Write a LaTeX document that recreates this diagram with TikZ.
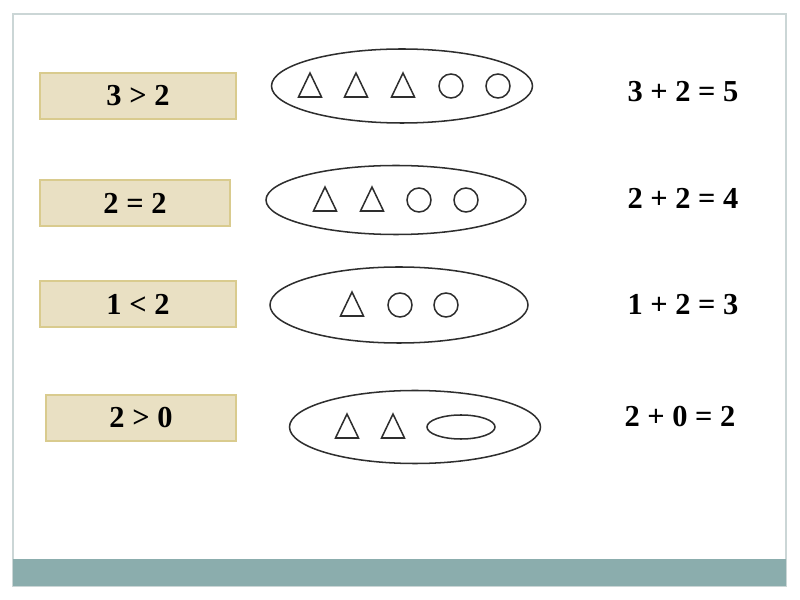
\documentclass[tikz,border=0pt]{standalone}
\usepackage{fontspec}
\setmainfont{Liberation Serif}
\usetikzlibrary{shapes.geometric,shadows}
\definecolor{boxfill}{HTML}{E9E0C3}
\definecolor{boxline}{HTML}{D9CB8E}
\definecolor{barcol}{HTML}{8BADAD}
\definecolor{framecol}{HTML}{CBD6D6}
\definecolor{inkcol}{HTML}{2E2E2E}
\tikzset{cmpbox/.style={draw=boxline,fill=boxfill,line width=1pt,
  minimum height=46*0.03cm,inner sep=0pt,
  font=\fontsize{26}{30}\selectfont\bfseries,
  drop shadow={opacity=0.3,shadow xshift=0.8pt,shadow yshift=-1pt}}}
\tikzset{sumtext/.style={font=\fontsize{26}{30}\selectfont\bfseries}}
\tikzset{setline/.style={draw=inkcol,line width=1.3pt}}
\tikzset{setoval/.style={setline,ellipse,inner sep=0pt}}
\tikzset{dot/.style={setline,circle,minimum size=24*0.03cm,inner sep=0pt}}
\tikzset{tri/.pic={\draw[setline] (-11.5,11) -- (0,-13) -- (11.5,11) -- cycle;}}

\begin{document}
\begin{tikzpicture}[x=0.03cm,y=-0.03cm]
\useasboundingbox (0,0) rectangle (800,600);

% slide frame and bottom bar
\draw[framecol,line width=1.2pt] (13,14) rectangle (786,586);
\fill[barcol] (13,559) rectangle (786,586);

% comparison boxes
\node[cmpbox,minimum width=196*0.03cm] (cmpA) at (138,96) {3 > 2};
\node[cmpbox,minimum width=190*0.03cm] (cmpB) at (135,203) {2 = 2};
\node[cmpbox,minimum width=196*0.03cm] (cmpC) at (138,304) {1 < 2};
\node[cmpbox,minimum width=190*0.03cm] (cmpD) at (141,418) {2 > 0};

% sets
\node[setoval,minimum width=261*0.03cm,minimum height=74*0.03cm] (setA) at (402,86) {};
\foreach \x in {310,356,403}{
  \pic at (\x,86) {tri};
}
\foreach \x [count=\i] in {451,498}{
  \node[dot] (setA-o\i) at (\x,86) {};
}

\node[setoval,minimum width=260*0.03cm,minimum height=69*0.03cm] (setB) at (396,200) {};
\foreach \x in {325,372}{
  \pic at (\x,200) {tri};
}
\foreach \x [count=\i] in {419,466}{
  \node[dot] (setB-o\i) at (\x,200) {};
}

\node[setoval,minimum width=258*0.03cm,minimum height=76*0.03cm] (setC) at (399,305) {};
\pic at (352,305) {tri};
\foreach \x [count=\i] in {400,446}{
  \node[dot] (setC-o\i) at (\x,305) {};
}

\node[setoval,minimum width=251*0.03cm,minimum height=73*0.03cm] (setD) at (415,427) {};
\foreach \x in {347,393}{
  \pic at (\x,427) {tri};
}
\node[setoval,minimum width=68*0.03cm,minimum height=24*0.03cm] (setD-e) at (461,427) {};

% sums
\node[sumtext] (sumA) at (683,92) {3 + 2 = 5};
\node[sumtext] (sumB) at (683,198) {2 + 2 = 4};
\node[sumtext] (sumC) at (683,305) {1 + 2 = 3};
\node[sumtext] (sumD) at (680,417) {2 + 0 = 2};

\end{tikzpicture}
\end{document}
